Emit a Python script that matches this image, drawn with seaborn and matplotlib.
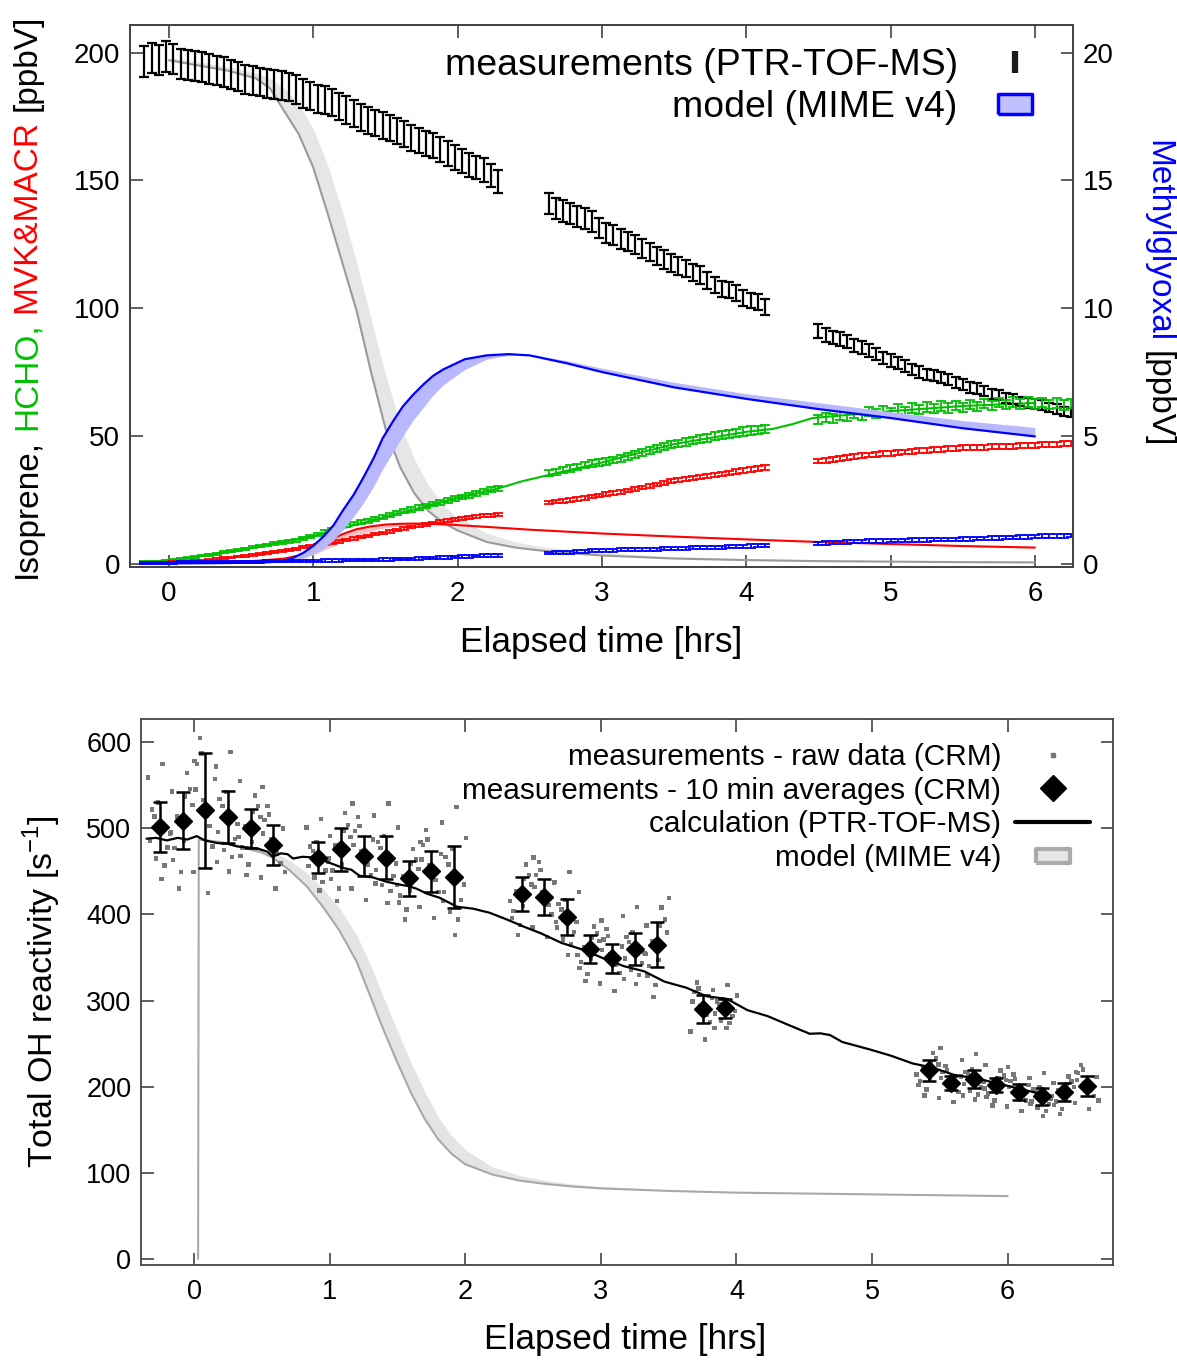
import numpy as np
import pandas as pd
import matplotlib
matplotlib.use('Agg')
import matplotlib.pyplot as plt
import seaborn as sns
from matplotlib.lines import Line2D

sns.set_theme(style='ticks')
plt.rcParams['font.family'] = ['Liberation Sans', 'DejaVu Sans']
plt.rcParams['mathtext.fontset'] = 'custom'
plt.rcParams['mathtext.rm'] = 'Liberation Sans'
plt.rcParams.update({'text.color': 'black', 'axes.labelcolor': 'black',
                     'xtick.color': 'black', 'ytick.color': 'black'})

# ---------------- top panel: PTR-TOF-MS measurements (2 min spacing ~ 0.05 h)
seg_start = [-0.17, 2.63, 4.50]
seg_step = 0.05

iso_seg1 = [196.5, 198, 197, 198.5, 197.5, 195.5, 195, 194.8, 194.5, 193.5,
            193, 192.5, 191.5, 190.5, 189.5, 189, 188.5, 188, 187.5, 187,
            186.5, 185.5, 184, 183, 182, 181.5, 180.5, 179, 177.5, 176,
            174.5, 173.5, 172.5, 171.5, 170.5, 169.5, 168, 166.5, 165.5, 164.5,
            163.5, 162, 160.5, 159, 157.5, 156, 155, 154, 152, 149.5]
iso_seg2 = [141, 139, 138, 137, 136, 135, 134, 131.5, 129.5, 128.5,
            127, 126, 125, 123.5, 122, 120.5, 119, 117.5, 116.5, 115.5,
            114, 113, 111, 109, 107.5, 107, 106, 104, 103, 102.5, 100.5]
iso_seg3 = [91, 89.5, 88.5, 88, 87, 85.5, 84.5, 83.5, 82, 80.5,
            79.5, 78.5, 77.5, 76, 75, 74, 73.5, 73, 72, 71,
            70, 69, 68.5, 67.5, 66.5, 66, 65, 64.5, 63.5, 63,
            62.5, 62, 61, 60.5, 59.5, 59]

hcho_seg1 = [0.6, 0.7, 0.9, 1.1, 1.4, 1.7, 2.2, 2.7, 3.2, 3.5,
             3.9, 4.4, 4.8, 5.3, 5.8, 6.4, 6.9, 7.3, 7.8, 8.2,
             8.6, 9.0, 9.8, 10.6, 11.4, 12.4, 13.4, 14.2, 15.0, 15.7,
             16.2, 16.8, 17.6, 18.3, 19.1, 19.8, 20.5, 21.2, 22.0, 22.6,
             23.3, 24.0, 24.7, 25.4, 26.1, 26.8, 27.5, 28.2, 28.9, 29.5]
hcho_seg2 = [35.3, 35.9, 36.6, 37.3, 37.9, 38.6, 39.2, 39.6, 40.1, 40.6,
             41.2, 41.8, 42.6, 43.4, 44.3, 45.1, 45.9, 46.6, 47.1, 47.6,
             48.2, 48.8, 49.3, 49.8, 50.3, 50.8, 51.3, 51.7, 52.1, 52.4, 52.7]
hcho_seg3 = [56.4, 57.3, 56.8, 57.9, 57.5, 58.6, 58.1, 59.4, 58.8, 59.9,
             59.3, 60.5, 59.7, 60.9, 60.2, 61.3, 60.6, 61.7, 60.9, 61.9,
             61.2, 62.3, 61.6, 62.7, 61.9, 63.0, 62.2, 63.2, 62.4, 63.3,
             62.5, 63.1, 62.3, 62.9, 62.1, 62.6]

mvk_seg1 = [0.2, 0.3, 0.4, 0.5, 0.6, 0.7, 0.9, 1.0, 1.3, 1.6,
            1.9, 2.1, 2.4, 2.8, 3.1, 3.5, 3.9, 4.2, 4.7, 5.1,
            5.5, 5.9, 6.4, 6.9, 7.3, 7.8, 8.2, 8.7, 9.3, 9.8,
            10.4, 10.9, 11.5, 12.1, 12.6, 13.2, 13.8, 14.3, 14.9, 15.4,
            15.9, 16.4, 16.9, 17.3, 17.7, 18.1, 18.4, 18.7, 18.9, 19.1]
mvk_seg2 = [23.9, 24.3, 24.6, 25.0, 25.4, 25.8, 26.2, 26.7, 27.2, 27.6,
            28.1, 28.6, 29.2, 29.8, 30.4, 31.0, 31.7, 32.2, 32.6, 33.0,
            33.4, 33.8, 34.2, 34.6, 35.1, 35.6, 36.1, 36.5, 36.9, 37.3, 37.6]
mvk_seg3 = [40.2, 40.5, 40.8, 41.2, 41.5, 41.9, 42.2, 42.5, 42.7, 43.0,
            43.2, 43.4, 43.7, 43.9, 44.2, 44.4, 44.6, 44.8, 45.0, 45.2,
            45.3, 45.4, 45.5, 45.6, 45.7, 45.8, 45.9, 46.0, 46.1, 46.2,
            46.4, 46.5, 46.7, 46.8, 47.0, 47.1]

mgly_seg1 = [0.03, 0.03, 0.04, 0.04, 0.04, 0.05, 0.05, 0.05, 0.06, 0.06,
             0.06, 0.07, 0.07, 0.07, 0.08, 0.08, 0.08, 0.09, 0.09, 0.09,
             0.10, 0.10, 0.10, 0.11, 0.11, 0.12, 0.12, 0.12, 0.13, 0.13,
             0.14, 0.14, 0.15, 0.16, 0.16, 0.17, 0.18, 0.19, 0.20, 0.21,
             0.22, 0.24, 0.25, 0.27, 0.28, 0.29, 0.30, 0.31, 0.31, 0.32]
mgly_seg2 = [0.42, 0.43, 0.44, 0.45, 0.47, 0.48, 0.50, 0.51, 0.52, 0.53, 0.54,
             0.55, 0.55, 0.56, 0.57, 0.57, 0.58, 0.59, 0.60, 0.61, 0.62,
             0.62, 0.63, 0.64, 0.65, 0.66, 0.67, 0.68, 0.69, 0.71, 0.72]
mgly_seg3 = [0.80, 0.81, 0.82, 0.83, 0.85, 0.86, 0.87, 0.88, 0.89, 0.89,
             0.90, 0.91, 0.91, 0.92, 0.93, 0.93, 0.94, 0.94, 0.95, 0.95,
             0.96, 0.97, 0.98, 0.99, 1.00, 1.01, 1.02, 1.03, 1.04, 1.05,
             1.06, 1.07, 1.08, 1.08, 1.09, 1.10]

# ---------------- top panel: model (MIME v4)
iso_mod_t = [0.0, 0.2, 0.4, 0.6, 0.7, 0.8, 0.9, 1.0, 1.1, 1.2, 1.3, 1.4, 1.5, 1.6, 1.7,
             1.8, 1.9, 2.0, 2.2, 2.4, 2.6, 2.8, 3.0, 3.5, 4.0, 4.5, 5.0, 5.5, 6.0]
iso_mod = [197, 195, 193, 190, 186, 177, 168, 155, 137, 118, 99, 75, 53, 38, 27.5,
           20.5, 16, 13, 8.5, 6.3, 5.0, 4.0, 3.2, 2.0, 1.4, 1.0, 0.8, 0.6, 0.5]
iso_mod_band = [198, 196.5, 194.5, 192, 190, 186, 180, 170, 156, 138, 118, 96, 74, 55, 41,
                30.5, 23, 18, 12, 8.5, 6.5, 5.2, 4.2, 2.8, 2.0, 1.5, 1.2, 1.0, 0.9]

mvk_mod_t = [-0.2, 0.0, 0.2, 0.4, 0.6, 0.8, 0.9, 1.0, 1.1, 1.2, 1.3, 1.4, 1.5, 1.6,
             1.7, 1.8, 1.9, 2.0, 2.2, 2.5, 3.0, 3.5, 4.0, 4.5, 5.0, 5.5, 6.0]
mvk_mod = [0.2, 0.3, 0.5, 0.8, 1.1, 2.0, 3.2, 5.5, 8.7, 11.5, 13.5, 14.6, 15.3, 15.6,
           15.7, 15.6, 15.4, 15.1, 14.4, 13.3, 11.8, 10.6, 9.5, 8.5, 7.7, 6.9, 6.3]
mvk_mod_band = [0.2, 0.3, 0.5, 0.7, 1.0, 1.5, 2.2, 3.5, 6.0, 8.5, 11.0, 12.8, 14.0, 14.8,
                15.2, 15.3, 15.2, 15.0, 14.3, 13.2, 11.7, 10.5, 9.4, 8.4, 7.6, 6.8, 6.2]

hcho_mod_t = [-0.2, 0.0, 0.5, 1.0, 1.5, 2.0, 2.29, 2.45, 2.63, 3.0, 3.5, 4.0, 4.18, 4.32, 4.46, 5.0, 5.5, 6.0]
hcho_mod = [0.6, 1.2, 5.3, 10.8, 18.3, 25.7, 29.6, 32.3, 34.7, 39.6, 46.8, 51.6, 52.7, 54.6, 57.0, 59.7, 61.7, 62.9]

mgly_mod_t = [-0.2, 0.0, 0.3, 0.6, 0.77, 0.85, 0.93, 1.0, 1.07, 1.14, 1.2, 1.28, 1.35, 1.42,
              1.48, 1.55, 1.62, 1.69, 1.76, 1.83, 1.9, 2.05, 2.2, 2.35, 2.5, 2.75, 3.0,
              3.5, 4.0, 4.5, 5.0, 5.5, 6.0]
mgly_mod = [0.01, 0.01, 0.02, 0.04, 0.08, 0.2, 0.42, 0.7, 1.06, 1.5, 2.04, 2.7, 3.4, 4.15,
            4.9, 5.55, 6.15, 6.6, 7.0, 7.35, 7.6, 8.0, 8.15, 8.2, 8.15, 7.85, 7.5,
            6.9, 6.45, 6.05, 5.7, 5.3, 4.98]
mgly_mod_band = [0.01, 0.01, 0.02, 0.03, 0.05, 0.1, 0.2, 0.38, 0.6, 0.92, 1.3, 1.85, 2.4, 3.05,
                 3.7, 4.35, 5.0, 5.6, 6.1, 6.6, 7.0, 7.6, 8.0, 8.15, 8.2, 7.95, 7.65,
                 7.1, 6.65, 6.3, 5.95, 5.6, 5.33]

# ---------------- bottom panel: OH reactivity
raw_offsets = [-0.062, 0.031, -0.088, 0.072, -0.015, 0.054,
               -0.041, 0.009, 0.087, -0.073, 0.018, -0.029]
avg_t = [-0.25, -0.083, 0.083, 0.25, 0.417, 0.583, 0.917, 1.083, 1.25, 1.417,
         1.583, 1.75, 1.917, 2.417, 2.583, 2.75, 2.917, 3.083, 3.25, 3.417,
         3.75, 3.917, 5.417, 5.583, 5.75, 5.917, 6.083, 6.25, 6.417, 6.583]
avg_v = [502, 509, 521, 513, 500, 481, 466, 476, 468, 466,
         442, 450, 444, 424, 420, 397, 360, 349, 360, 365,
         290, 291, 219, 204, 209, 202, 194, 189, 194, 201]
avg_err = [29, 33, 67, 30, 23, 23, 18, 25, 23, 25,
           20, 24, 36, 20, 21, 21, 16, 17, 19, 26,
           16, 11, 12, 8, 11, 8, 9, 10, 10, 12]
raw_groups = [
    [522, 457, 559, 494, 530, 478, 514, 441, 543, 486, 575, 465],
    [477, 564, 495, 527, 449, 546, 514, 486, 578, 463, 537, 430],
    [575, 503, 449, 557, 533, 479, 605, 515, 461, 545, 425, 587],
    [534, 467, 572, 505, 542, 488, 526, 450, 555, 496, 589, 475],
    [478, 538, 490, 513, 458, 526, 503, 484, 548, 468, 519, 446],
    [510, 471, 443, 500, 487, 459, 526, 478, 449, 494, 430, 516],
    [479, 438, 501, 461, 484, 451, 474, 428, 491, 456, 511, 443],
    [451, 518, 465, 490, 430, 504, 480, 458, 529, 441, 497, 416],
    [497, 458, 430, 487, 474, 446, 513, 465, 436, 481, 417, 503],
    [484, 427, 515, 459, 491, 445, 477, 413, 501, 452, 529, 434],
    [422, 476, 434, 453, 406, 464, 445, 428, 484, 414, 459, 394],
    [481, 440, 409, 470, 457, 426, 498, 447, 416, 464, 396, 487],
    [467, 394, 507, 435, 476, 417, 458, 376, 489, 426, 525, 403],
    [404, 458, 416, 435, 388, 446, 427, 410, 466, 396, 441, 376],
    [446, 411, 385, 437, 426, 400, 461, 417, 391, 432, 374, 452],
    [412, 365, 438, 391, 417, 380, 406, 353, 426, 385, 449, 371],
    [345, 386, 353, 369, 331, 378, 362, 349, 393, 338, 373, 323],
    [371, 342, 320, 363, 354, 332, 383, 347, 325, 359, 311, 375],
    [374, 330, 398, 355, 379, 344, 368, 319, 387, 349, 409, 336],
    [340, 408, 354, 379, 318, 394, 369, 347, 419, 329, 387, 304],
    [310, 283, 264, 303, 294, 275, 321, 288, 268, 299, 255, 314],
    [299, 274, 312, 288, 302, 282, 296, 268, 306, 285, 318, 277],
    [207, 239, 214, 226, 197, 233, 221, 210, 245, 202, 229, 190],
    [217, 200, 187, 212, 207, 194, 224, 203, 190, 210, 182, 219],
    [217, 191, 231, 206, 220, 199, 214, 185, 225, 203, 238, 195],
    [192, 219, 198, 208, 184, 213, 203, 195, 223, 188, 210, 178],
    [207, 190, 177, 202, 197, 184, 214, 193, 180, 200, 172, 209],
    [197, 172, 210, 186, 200, 180, 194, 166, 204, 183, 216, 175],
    [183, 212, 189, 200, 174, 206, 196, 186, 217, 179, 203, 168],
    [216, 196, 181, 211, 204, 189, 225, 199, 184, 208, 174, 220],
]

calc_t = [-0.35, -0.28, -0.2, -0.12, -0.05, 0.02, 0.08, 0.17, 0.25, 0.32, 0.41, 0.48, 0.54,
          0.58, 0.64, 0.69, 0.73, 0.8, 0.91, 1.0, 1.1, 1.16, 1.22, 1.32, 1.42, 1.52, 1.58,
          1.64, 1.72, 1.81, 1.94, 2.06, 2.18, 2.31, 2.43, 2.56, 2.71, 2.87, 3.02, 3.17,
          3.32, 3.47, 3.63, 3.78, 3.93, 4.08, 4.23, 4.38, 4.54, 4.62, 4.69, 4.78, 4.99,
          5.14, 5.30, 5.45, 5.60, 5.75, 5.90, 6.05, 6.21]
calc_v = [488, 489, 486, 489, 487, 491, 486, 483, 482, 479, 477.6, 476, 473,
          467, 471, 470, 465, 467, 466, 460, 454, 452, 445, 443, 438, 434.6, 433,
          430, 424, 419.5, 409, 406.7, 402, 394, 386, 378, 367, 359, 349, 340,
          334, 322, 315, 305, 302, 289, 282, 272, 261.5, 262, 260, 252, 243,
          236, 227, 222, 214, 210, 205, 199, 193]

kOH_mod_t = [0.03, 0.035, 0.2, 0.35, 0.5, 0.58, 0.7, 0.83, 0.95, 1.07, 1.2, 1.3, 1.4, 1.5,
             1.6, 1.7, 1.8, 1.9, 2.0, 2.2, 2.4, 2.6, 2.8, 3.0, 3.5, 4.0, 4.5, 5.0, 5.5, 6.0]
kOH_mod = [0, 487, 484, 478, 472, 466, 452, 433, 409, 382, 345, 305, 265, 228,
           193, 163, 139, 122, 110, 98, 91, 87, 84, 82, 79, 77, 76, 75, 74, 73]
kOH_mod_band = [0, 488, 486, 481, 477, 473, 463, 449, 430, 408, 376, 342, 303, 265,
                228, 195, 165, 143, 127, 107, 97, 91, 87, 84, 80, 78, 77, 76, 75, 74]

GREEN = '#00c000'
EDGE = '#444444'


def seg_times(i, n):
    return np.round(seg_start[i] + seg_step * np.arange(n), 3)


def style(ax, size):
    ax.tick_params(direction='in', length=9, width=1.2, color=EDGE,
                   labelcolor='black', labelsize=size, pad=7)
    ax.tick_params(axis='x', pad=10)
    for s in ax.spines.values():
        s.set_color(EDGE)
        s.set_linewidth(1.3)


fig = plt.figure(figsize=(11.77, 13.6), dpi=100)
W, H = 1177, 1360
ax1 = fig.add_axes([130 / W, 1 - 567 / H, 943 / W, 542 / H])
ax2 = ax1.twinx()
ax3 = fig.add_axes([141 / W, 1 - 1265 / H, 972 / W, 546 / H])

# ---- top panel
ax1.fill_between(iso_mod_t, iso_mod, iso_mod_band, color='#e6e6e6', lw=0)
ax1.fill_between(mvk_mod_t, mvk_mod, mvk_mod_band, color='#ffc0c0', lw=0)
sns.lineplot(x=iso_mod_t, y=iso_mod, ax=ax1, color='#9a9a9a', lw=1.5,
             estimator=None, sort=False)
sns.lineplot(x=mvk_mod_t, y=mvk_mod, ax=ax1, color='red', lw=1.5,
             estimator=None, sort=False)
sns.lineplot(x=hcho_mod_t, y=hcho_mod, ax=ax1, color=GREEN, lw=1.5,
             estimator=None, sort=False)

species = [
    ([iso_seg1, iso_seg2, iso_seg3], 'black', lambda v: 0.03 * v, 1.6, ax1),
    ([hcho_seg1, hcho_seg2, hcho_seg3], GREEN, lambda v: 0.025 * v + 0.3, 1.3, ax1),
    ([mvk_seg1, mvk_seg2, mvk_seg3], 'red', lambda v: 0.015 * v + 0.3, 1.3, ax1),
    ([mgly_seg1, mgly_seg2, mgly_seg3], 'blue', lambda v: 0.03 * v + 0.04, 1.3, ax2),
]
for segs, col, errf, lw, ax in species:
    for i, seg in enumerate(segs):
        v = np.array(seg)
        ax.errorbar(seg_times(i, len(v)), v, yerr=errf(v), fmt='none',
                    ecolor=col, elinewidth=lw, capsize=3.6, capthick=lw)

ax2.fill_between(mgly_mod_t, mgly_mod, mgly_mod_band, color='#b8b8ff', lw=0)
sns.lineplot(x=mgly_mod_t, y=mgly_mod, ax=ax2, color='blue', lw=1.6,
             estimator=None, sort=False)

ax1.set_xlim(-0.27, 6.264)
ax1.set_ylim(-1.3, 210.8)
ax2.set_ylim(-0.13, 21.08)
ax1.set_xticks(range(0, 7))
ax1.set_yticks(range(0, 201, 50))
ax2.set_yticks(range(0, 21, 5))
style(ax1, 20)
style(ax2, 20)
ax1.tick_params(top=True, right=False)
ax2.tick_params(right=True)
ax1.set_xlabel('Elapsed time [hrs]', fontsize=25.4)
ax1.xaxis.set_label_coords(0.5, -0.108)
ax1.set_ylabel('')
ax2.set_ylabel('')

rect_top = [(-1, -0.6), (1, -0.6), (1, 0.6), (-1, 0.6), (-1, -0.6)]
h_top = [Line2D([], [], ls='none', marker='|', ms=16, mew=4.5, color='k'),
         Line2D([], [], ls='none', marker=rect_top, ms=25, mfc='#c0c0ff',
                mec='blue', mew=2.5)]
ax2.legend(h_top, ['measurements (PTR-TOF-MS)', 'model (MIME v4)'],
           loc='upper right', bbox_to_anchor=(0.957, 0.958), frameon=False,
           fontsize=26.9, markerfirst=False, handlelength=0.95,
           handletextpad=1.05, labelspacing=0.2, borderpad=0, borderaxespad=0)

# ---- bottom panel
raw_t = [t + o for t, g in zip(avg_t, raw_groups) for o in raw_offsets[:len(g)]]
raw_v = [v for g in raw_groups for v in g]
raw = pd.DataFrame({'t': raw_t, 'v': raw_v})

ax3.fill_between(kOH_mod_t[1:], kOH_mod[1:], kOH_mod_band[1:], color='#e4e4e4', lw=0)
sns.lineplot(x=kOH_mod_t, y=kOH_mod, ax=ax3, color='#a8a8a8', lw=1.5,
             estimator=None, sort=False)
sns.scatterplot(data=raw, x='t', y='v', ax=ax3, marker='s', s=10,
                color='#777777', edgecolor='none', zorder=2)
sns.lineplot(x=calc_t, y=calc_v, ax=ax3, color='black', lw=1.6,
             estimator=None, sort=False, zorder=3)
ax3.errorbar(avg_t, avg_v, yerr=avg_err, fmt='D', ms=9.5, color='black',
             ecolor='black', elinewidth=1.8, capsize=5, capthick=1.8, zorder=4)

ax3.set_xlim(-0.391, 6.777)
ax3.set_ylim(-7, 627)
ax3.set_xticks(range(0, 7))
ax3.set_yticks(range(0, 601, 100))
style(ax3, 19.5)
ax3.tick_params(top=True, right=True)
ax3.set_xlabel('Elapsed time [hrs]', fontsize=25.4)
ax3.xaxis.set_label_coords(0.498, -0.106)
ax3.set_ylabel(r'Total OH reactivity [s$^{\mathregular{-1}}$]', fontsize=24.5)
ax3.yaxis.set_label_coords(-0.08, 0.5)

rect_bot = [(-1.2, -0.5), (1.2, -0.5), (1.2, 0.5), (-1.2, 0.5), (-1.2, -0.5)]
h_bot = [Line2D([], [], ls='none', marker='s', ms=3.5, color='#777777'),
         Line2D([], [], ls='none', marker='D', ms=13, color='black'),
         Line2D([], [], color='black', lw=3),
         Line2D([], [], ls='none', marker=rect_bot, ms=24, mfc='#e6e6e6',
                mec='#aaaaaa', mew=3)]
ax3.legend(h_bot, ['measurements - raw data (CRM)',
                   'measurements - 10 min averages (CRM)',
                   'calculation (PTR-TOF-MS)', 'model (MIME v4)'],
           loc='upper right', bbox_to_anchor=(0.976, 0.956), frameon=False,
           fontsize=21.4, markerfirst=False, handlelength=2.5, handletextpad=0.47,
           labelspacing=0.19, borderpad=0, borderaxespad=0)

# ---- multi-coloured y labels of the top panel
renderer = fig.canvas.get_renderer()


def stacked(pieces, x_px, y_px, rot, fs):
    gap = 0.278 * fs * fig.dpi / 72
    y = y_px
    for txt, col in pieces:
        va = 'bottom' if rot == 90 else 'top'
        t = fig.text(x_px / W, (H - y) / H, txt, color=col, rotation=rot,
                     fontsize=fs, ha='center', va=va)
        h = t.get_window_extent(renderer).height
        y = y - h - gap if rot == 90 else y + h + gap


stacked([('Isoprene,', 'black'), ('HCHO,', GREEN), ('MVK&MACR', 'red'),
         ('[ppbV]', 'black')], 27, 578, 90, 24)
stacked([('Methylglyoxal', 'blue'), ('[ppbV]', 'black')], 1158, 140, -90, 24)

fig.savefig('out.png', dpi=100)
